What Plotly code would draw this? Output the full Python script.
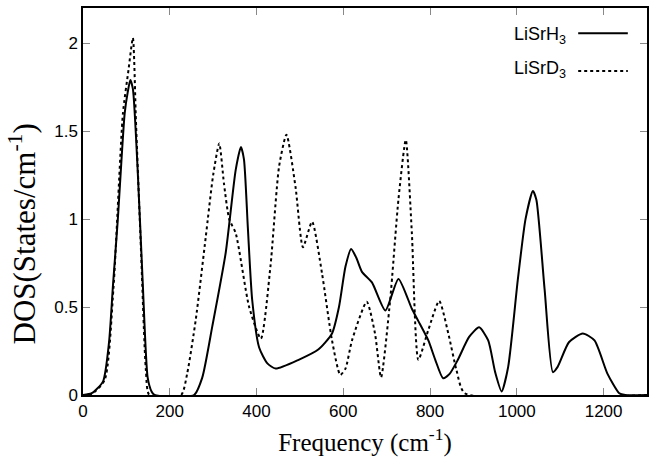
import plotly.graph_objects as go

# LiSrH3 (solid)
freq_h = [0, 20, 46, 60, 69, 80, 96, 103, 109, 115, 126, 138, 149, 158, 165,
          256, 275, 298, 329, 352, 364, 371, 380, 390, 406, 425, 444, 497, 543,
          574, 590, 605, 618, 630, 643, 666, 697, 727, 758, 773, 796, 812, 830,
          845, 864, 890, 913, 934, 950, 965, 980, 1002, 1020, 1037, 1045, 1064,
          1083, 1094, 1120, 1152, 1179, 1209, 1236, 1250, 1300]
dos_h = [0, 0.01, 0.076, 0.3, 0.62, 0.99, 1.6, 1.72, 1.79, 1.74, 1.28, 0.62, 0.1, 0.02, 0,
         0, 0.1, 0.39, 0.81, 1.28, 1.41, 1.34, 0.95, 0.54, 0.27, 0.18, 0.15, 0.2, 0.26,
         0.35, 0.5, 0.73, 0.83, 0.78, 0.70, 0.64, 0.48, 0.66, 0.49, 0.42, 0.31, 0.2, 0.095,
         0.12, 0.2, 0.33, 0.385, 0.31, 0.13, 0.02, 0.16, 0.65, 1.0, 1.16, 1.11, 0.6,
         0.13, 0.16, 0.3, 0.35, 0.31, 0.12, 0.01, 0, 0]

# LiSrD3 (dashed)
freq_d = [0, 20, 50, 70, 92, 105, 115, 122, 134, 145, 153,
          226, 240, 260, 283, 300, 314, 325, 337, 352, 383, 410, 432, 452, 469,
          490, 507, 528, 551, 574, 593, 605, 620, 654, 673, 687, 708, 727, 744,
          758, 773, 796, 821, 842, 861, 880, 1300]
dos_d = [0, 0.005, 0.085, 0.6, 1.6, 1.85, 2.03, 1.56, 0.8, 0.14, 0,
         0, 0.12, 0.43, 0.9, 1.25, 1.43, 1.2, 1.0, 0.92, 0.5, 0.32, 0.73, 1.3, 1.48,
         1.18, 0.84, 0.985, 0.69, 0.31, 0.114, 0.15, 0.31, 0.53, 0.35, 0.10, 0.54, 1.11, 1.45,
         0.92, 0.2, 0.37, 0.535, 0.35, 0.14, 0.01, 0]

x_ticks = [0, 200, 400, 600, 800, 1000, 1200]
y_ticks = [0, 0.5, 1, 1.5, 2]
y_tick_text = ["0", "0.5", "1", "1.5", "2"]

fig = go.Figure()
fig.add_trace(go.Scatter(x=freq_h, y=dos_h, mode="lines", name="LiSrH3",
                         line=dict(color="black", width=2, shape="spline", smoothing=0.6),
                         showlegend=False))
fig.add_trace(go.Scatter(x=freq_d, y=dos_d, mode="lines", name="LiSrD3",
                         line=dict(color="black", width=2, dash="3px,3px", shape="spline", smoothing=0.6),
                         showlegend=False))

tickfont = dict(family="Liberation Sans, Arial", size=17, color="black")
serif = "Liberation Serif, Times New Roman"

fig.update_layout(
    width=649, height=458,
    margin=dict(l=83, r=0, t=8, b=63),
    paper_bgcolor="white", plot_bgcolor="white",
    xaxis=dict(range=[0, 1300], tickvals=x_ticks, ticks="inside", ticklen=7,
               tickcolor="#888", tickwidth=1, showline=True, linecolor="black", linewidth=1.5,
               mirror="allticks", showgrid=False, zeroline=False, tickfont=tickfont,
               title=dict(text="Frequency (cm<sup>-1</sup>)",
                          font=dict(family=serif, size=25, color="black"), standoff=13)),
    yaxis=dict(range=[0, 2.2], tickvals=y_ticks, ticktext=y_tick_text, ticks="inside", ticklen=7,
               tickcolor="#888", tickwidth=1, showline=True, linecolor="black", linewidth=1.5,
               mirror="allticks", showgrid=False, zeroline=False, tickfont=tickfont),
)

# y-axis title
fig.add_annotation(x=-0.108, y=0.415, xref="paper", yref="paper", xanchor="center", yanchor="middle",
                   text="DOS(States/cm<sup>-1</sup>)", textangle=-90, showarrow=False,
                   font=dict(family=serif, size=31, color="black"))

legend_font = dict(family="Liberation Sans, Arial", size=18, color="black")
fig.add_annotation(x=0.7615, y=0.930, xref="paper", yref="paper", xanchor="left", yanchor="middle",
                   text="LiSrH<sub>3</sub>", showarrow=False, font=legend_font)
fig.add_annotation(x=0.7615, y=0.840, xref="paper", yref="paper", xanchor="left", yanchor="middle",
                   text="LiSrD<sub>3</sub>", showarrow=False, font=legend_font)
fig.add_shape(type="line", xref="paper", yref="paper", x0=0.878, x1=0.966, y0=0.9346, y1=0.9346,
              line=dict(color="black", width=2))
fig.add_shape(type="line", xref="paper", yref="paper", x0=0.878, x1=0.966, y0=0.837, y1=0.837,
              line=dict(color="black", width=2, dash="3px,3px"))

fig.write_html("out.html", config={"displayModeBar": False},
               post_script="document.body.style.margin='0px';")
